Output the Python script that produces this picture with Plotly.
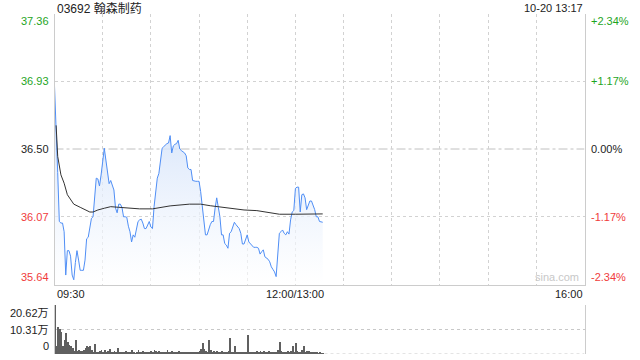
import plotly.graph_objects as go

# ---------------- data ----------------
title_text = "03692 翰森制药"
stamp_text = "10-20 13:17"
prev_close = 36.50

price_ticks = [37.36, 36.93, 36.50, 36.07, 35.64]
price_tick_labels = ["37.36", "36.93", "36.50", "36.07", "35.64"]
pct_tick_labels = ["+2.34%", "+1.17%", "0.00%", "-1.17%", "-2.34%"]
tick_colors = ["#1ea51e", "#1ea51e", "#222222", "#f03c3c", "#f03c3c"]

vol_ticks = [20.62, 10.31, 0]
vol_tick_labels = ["20.62万", "10.31万", "0"]

time_tick_labels = ["09:30", "12:00/13:00", "16:00"]

# per-minute prices from 09:30 (morning 09:30-11:59, afternoon 13:00-13:17)
price = [
    36.90, 36.67, 36.35, 36.04, 36.03, 36.03, 35.975, 35.70, 35.855, 35.855,
    35.82, 35.70, 35.67, 35.78, 35.855, 35.795, 35.73, 35.73, 35.73, 35.795,
    35.93, 35.94, 36.01, 36.06, 36.07, 36.22, 36.315, 36.31, 36.265, 36.335,
    36.42, 36.505, 36.43, 36.345, 36.28, 36.30, 36.265, 36.24, 36.125, 36.095,
    36.15, 36.15, 36.13, 36.07, 36.07, 36.067, 36.01, 35.975, 35.91, 35.955,
    35.94, 35.995, 36.04, 36.05, 36.055, 36.03, 35.995, 35.995, 36.02, 36.04,
    36.005, 35.995, 36.135, 36.24, 36.315, 36.345, 36.41, 36.505, 36.515, 36.527,
    36.534, 36.538, 36.585, 36.475, 36.52, 36.53, 36.534, 36.555, 36.50, 36.49,
    36.485, 36.475, 36.457, 36.38, 36.37, 36.37, 36.30, 36.295, 36.295, 36.295,
    36.295, 36.23, 36.135, 36.03, 35.955, 35.955, 35.995, 36.02, 36.04, 36.04,
    36.125, 36.19, 36.13, 36.07, 35.955, 35.955, 35.90, 35.89, 35.87, 35.965,
    35.975, 36.01, 36.035, 36.02, 36.01, 35.995, 35.965, 35.897, 35.897, 35.933,
    35.955, 35.91, 35.897, 35.89, 35.876, 35.876, 35.876, 35.87, 35.833, 35.848,
    35.86, 35.816, 35.81, 35.80, 35.784, 35.752, 35.736, 35.72, 35.69, 35.82,
    35.965, 35.975, 35.986, 35.965, 35.955, 35.975, 35.96, 36.05, 36.10, 36.11,
    36.25, 36.258, 36.258, 36.10, 36.21, 36.215, 36.19, 36.115, 36.145, 36.17,
    36.17, 36.14, 36.115, 36.07, 36.07, 36.04, 36.035, 36.035,
]

# average price line, read at selected times
avg_times = ["09:31", "09:32", "09:34", "09:36", "09:38", "09:40", "09:42", "09:46",
             "09:49", "09:52", "09:54", "09:57", "10:01", "10:05", "10:10", "10:23",
             "10:31", "10:42", "10:54", "11:01", "11:07", "11:18", "11:28", "11:36",
             "11:48", "11:50", "13:00", "13:17"]
avg_price = [36.65, 36.453, 36.336, 36.283, 36.21, 36.177, 36.15, 36.13,
             36.113, 36.10, 36.10, 36.113, 36.124, 36.134, 36.13, 36.12,
             36.12, 36.139, 36.15, 36.15, 36.14, 36.124, 36.113, 36.109,
             36.092, 36.086, 36.086, 36.088]

# per-minute volume (万股)
volume = [
    20.6, 3.5, 11.2, 10.5, 9.4, 3.3, 5.9, 8.7, 5.2, 3.8,
    3.3, 2.4, 1.4, 5.9, 1.4, 1.7, 1.4, 1.2, 1.6, 2.4,
    3.3, 2.8, 3.3, 1.6, 1.0, 4.2, 1.0, 0.8, 1.2, 1.5,
    1.0, 1.8, 0.7, 1.2, 2.0, 0.8, 0.6, 1.4, 0.9, 2.6,
    0.7, 0.5, 0.9, 0.6, 1.1, 0.8, 0.5, 0.7, 1.5, 0.6,
    0.4, 0.8, 1.6, 0.7, 0.9, 1.3, 0.6, 0.5, 1.0, 0.7,
    1.2, 0.8, 1.8, 1.3, 0.9, 1.4, 0.7, 1.0, 0.6, 0.8,
    1.5, 0.9, 0.6, 1.1, 0.7, 0.5, 0.8, 1.3, 0.6, 0.9,
    0.5, 0.7, 0.6, 0.8, 0.5, 0.9, 0.7, 0.6, 0.8, 1.0,
    1.2, 2.0, 4.8, 2.2, 1.4, 1.0, 5.9, 1.5, 0.9, 1.2,
    1.0, 1.4, 0.8, 0.9, 1.1, 0.7, 0.9, 0.6, 1.2, 6.6,
    1.0, 0.8, 3.2, 0.9, 0.7, 0.6, 0.8, 0.5, 0.7, 0.6,
    8.0, 1.0, 0.6, 0.8, 0.5, 0.9, 1.2, 0.8, 1.4, 0.7,
    1.1, 0.8, 0.6, 1.3, 0.9, 1.0, 0.7, 0.6, 0.9, 1.5,
    5.2, 1.2, 0.8, 1.0, 0.7, 1.1, 0.9, 1.3, 3.3, 1.0,
    4.8, 1.2, 1.0, 0.8, 1.5, 3.3, 0.9, 1.2, 1.4, 0.8,
    0.6, 0.7, 0.5, 0.6, 0.4, 0.5, 0.3, 0.4,
]

# ---------------- helpers ----------------
def session_minute(hhmm):
    h, m = map(int, hhmm.split(":"))
    t = h * 60 + m
    if t <= 12 * 60:
        return t - (9 * 60 + 30)
    return 150 + t - 13 * 60

minute_times = []
for i in range(len(price)):
    if i < 150:
        t = 9 * 60 + 30 + i
    else:
        t = 13 * 60 + (i - 150)
    minute_times.append(f"{t // 60:02d}:{t % 60:02d}")

xs = [session_minute(t) for t in minute_times]
avg_x = [session_minute(t) for t in avg_times]
time_tick_x = [session_minute(t) for t in ["09:30", "12:00", "16:00"]]
grid_x = list(range(30, 330, 30))

FONT = "Liberation Sans, Arial, Noto Sans CJK SC, sans-serif"
W, H = 640, 360
X0, X1 = 54.5 / W, 584.5 / W
MAIN_TOP, MAIN_BOT = 1 - 13.5 / H, 1 - 284.5 / H
VOL_TOP, VOL_BOT = 1 - 305 / H, 1 - 354 / H

fig = go.Figure()

fig.add_trace(go.Scatter(
    x=xs, y=price, mode="lines",
    line=dict(color="#4f8ef5", width=1),
    fill="tozeroy",
    fillgradient=dict(type="vertical", start=35.64, stop=36.6,
                      colorscale=[[0, "rgba(255,255,255,0.6)"], [1, "rgba(214,228,250,0.85)"]]),
    xaxis="x", yaxis="y", hoverinfo="skip",
))
fig.add_trace(go.Scatter(
    x=avg_x, y=avg_price, mode="lines",
    line=dict(color="#333333", width=1),
    xaxis="x", yaxis="y", hoverinfo="skip",
))
fig.add_trace(go.Bar(
    x=xs, y=volume, width=0.5,
    marker=dict(color="#606060", line=dict(width=0)),
    xaxis="x2", yaxis="y2", hoverinfo="skip",
))

fig.update_layout(
    width=W, height=H,
    margin=dict(l=0, r=0, t=0, b=0),
    paper_bgcolor="white", plot_bgcolor="white",
    showlegend=False,
    font=dict(family=FONT, size=11, color="#222"),
    xaxis=dict(domain=[X0, X1], range=[0, 330], anchor="y",
               tickvals=grid_x, showticklabels=False, ticks="",
               showgrid=True, gridcolor="#d2d2d2", griddash="dot", gridwidth=1,
               showline=True, linecolor="#cccccc", linewidth=1, zeroline=False),
    yaxis=dict(domain=[MAIN_BOT, MAIN_TOP], range=[35.64, 37.36], anchor="x",
               tickvals=[36.93, 36.07], showticklabels=False, ticks="",
               showgrid=True, gridcolor="#d2d2d2", griddash="dot", gridwidth=1,
               showline=True, mirror=True, linecolor="#cccccc", linewidth=1,
               zeroline=False),
    xaxis2=dict(domain=[X0, X1], range=[0, 330], anchor="y2",
                showticklabels=False, ticks="", showgrid=False,
                showline=False, zeroline=False),
    yaxis2=dict(domain=[VOL_BOT, VOL_TOP], range=[0, 20.62], anchor="x2",
                tickvals=vol_ticks, showticklabels=False, ticks="",
                showgrid=True, gridcolor="#c8c8c8", griddash="dot", gridwidth=1,
                showline=True, mirror=True, linecolor="#cccccc", linewidth=1,
                zeroline=False),
    bargap=0,
)

# 0.00% reference line
fig.add_shape(type="line", xref="x", yref="y", x0=0, x1=330, y0=prev_close, y1=prev_close,
              line=dict(color="#c0c0c0", width=1, dash="dashdot"), layer="below")
# volume bottom dotted line
fig.add_shape(type="line", xref="x2", yref="y2", x0=0, x1=330, y0=0, y1=0,
              line=dict(color="#c8c8c8", width=1, dash="dot"), layer="below")

ann = []
ann.append(dict(text=title_text, x=X0, y=1 - 8 / H, xref="paper", yref="paper",
                xanchor="left", yanchor="middle", showarrow=False,
                font=dict(size=12, color="#222")))
ann.append(dict(text=stamp_text, x=X1, y=1 - 8 / H, xref="paper", yref="paper",
                xanchor="right", yanchor="middle", showarrow=False,
                font=dict(size=11, color="#222")))

def edge_anchor(i, n):
    if i == 0:
        return "top"
    if i == n - 1:
        return "bottom"
    return "middle"

for i, (p, lab, pl, col) in enumerate(zip(price_ticks, price_tick_labels, pct_tick_labels, tick_colors)):
    ya = edge_anchor(i, len(price_ticks))
    ann.append(dict(text=lab, x=51 / W, y=p, xref="paper", yref="y",
                    xanchor="right", yanchor=ya, showarrow=False,
                    font=dict(size=11, color=col)))
    ann.append(dict(text=pl, x=589 / W, y=p, xref="paper", yref="y",
                    xanchor="left", yanchor=ya, showarrow=False,
                    font=dict(size=11, color=col)))

for i, (v, lab) in enumerate(zip(vol_ticks, vol_tick_labels)):
    ya = edge_anchor(i, len(vol_ticks))
    ann.append(dict(text=lab, x=51 / W, y=v, xref="paper", yref="y2",
                    xanchor="right", yanchor=ya, showarrow=False,
                    font=dict(size=11, color="#222")))

for tx, lab, xa in zip(time_tick_x, time_tick_labels, ["left", "center", "right"]):
    ann.append(dict(text=lab, x=tx, y=1 - 294 / H, xref="x", yref="paper",
                    xanchor=xa, yanchor="middle", showarrow=False,
                    font=dict(size=11, color="#222")))

ann.append(dict(text="sina.com", x=X1 - 4 / W, y=35.64, xref="paper", yref="y",
                xanchor="right", yanchor="bottom", showarrow=False,
                font=dict(size=11, color="#c8c8c8")))

fig.update_layout(annotations=ann)

fig.write_html("out.html")
